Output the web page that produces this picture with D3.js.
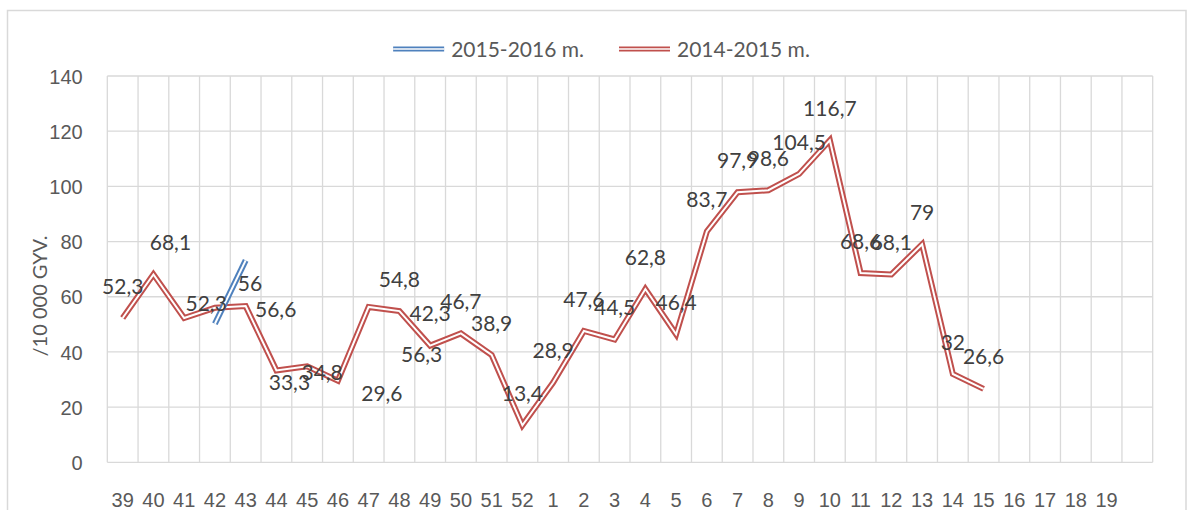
<!DOCTYPE html>
<html>
<head>
<meta charset="utf-8">
<script src="https://cdn.jsdelivr.net/npm/d3@7"></script>
<style>
  body { margin: 0; background: #fff; }
  svg { display: block; font-family: Lato, "Open Sans", sans-serif; }
</style>
</head>
<body>
<script>
// week numbers on the x axis (the last slot has no label)
const weeks = ["39","40","41","42","43","44","45","46","47","48","49","50","51","52",
  "1","2","3","4","5","6","7","8","9","10","11","12","13","14","15","16","17","18","19",""];

// 2014-2015 m. season, one value per week from 39 to 15
const weeks1415 = ["39","40","41","42","43","44","45","46","47","48","49","50","51","52",
  "1","2","3","4","5","6","7","8","9","10","11","12","13","14","15"];
const values1415 = [52.3, 68.1, 52.3, 56, 56.6, 33.3, 34.8, 29.6, 56.3, 54.8, 42.3, 46.7, 38.9, 13.4,
  28.9, 47.6, 44.5, 62.8, 46.4, 83.7, 97.9, 98.6, 104.5, 116.7, 68.6, 68.1, 79, 32, 26.6];

// 2015-2016 m. season, only the first weeks
const weeks1516 = ["42","43"];
const values1516 = [50.2, 73.2];

const yTicks = [0, 20, 40, 60, 80, 100, 120, 140];
const seriesNames = ["2015-2016 m.", "2014-2015 m."];
const seriesColors = ["#4f81bd", "#c0504d"];

// labels that were moved by hand in the original (offset from the point)
const labelMove = {"40":[17,-32], "41":[22,-15], "42":[35,-24], "43":[30,3],
  "44":[13,12], "45":[15,6], "46":[44,13], "47":[53,47]};

const W = 1187, H = 510;
const plotL = 107.3, plotR = 1152.7, plotT = 76, plotB = 462.3;

const svg = d3.select("body").append("svg")
  .attr("width", W).attr("height", H);

// chart frame
svg.append("rect")
  .attr("x", 7.5).attr("y", 10.5)
  .attr("width", 1178.5).attr("height", 530)
  .attr("fill", "none").attr("stroke", "#d9d9d9").attr("stroke-width", 1.5);

const x = d3.scaleBand().domain(weeks).range([plotL, plotR]).padding(0);
const y = d3.scaleLinear().domain([0, 140]).range([plotB, plotT]);
const cx = c => x(c) + x.bandwidth() / 2;

// grid
const grid = svg.append("g").attr("stroke", "#d9d9d9").attr("stroke-width", 1.3);
grid.selectAll(".hg").data(yTicks).enter().append("line")
  .attr("x1", plotL).attr("x2", plotR)
  .attr("y1", d => y(d)).attr("y2", d => y(d));
grid.selectAll(".vg").data(weeks.concat(["end"])).enter().append("line")
  .attr("x1", (d, i) => i < weeks.length ? x(d) : plotR)
  .attr("x2", (d, i) => i < weeks.length ? x(d) : plotR)
  .attr("y1", plotT).attr("y2", plotB);

// axes
const yAxis = svg.append("g")
  .attr("transform", "translate(" + plotL + ",0)")
  .call(d3.axisLeft(y).tickValues(yTicks).tickSize(0).tickPadding(24.6));
yAxis.select(".domain").remove();
yAxis.selectAll("text").attr("fill", "#595959").style("font-size", "20px")
  .attr("dy", "0.36em");

const xAxis = svg.append("g")
  .attr("transform", "translate(0," + plotB + ")")
  .call(d3.axisBottom(x).tickSize(0).tickPadding(31));
xAxis.select(".domain").remove();
xAxis.selectAll("text").attr("fill", "#595959").style("font-size", "20px");

svg.append("text")
  .attr("transform", "translate(47,296) rotate(-90)")
  .attr("text-anchor", "middle")
  .attr("fill", "#595959")
  .style("font-size", "20px")
  .text("/10 000 GYV.");

// double (compound) lines
const line = d3.line().x(d => cx(d[0])).y(d => y(d[1]));
function doubleLine(g, pts, color) {
  g.append("path").attr("d", line(pts)).attr("fill", "none")
    .attr("stroke", color).attr("stroke-width", 6)
    .attr("stroke-linejoin", "miter").attr("stroke-miterlimit", 10);
  g.append("path").attr("d", line(pts)).attr("fill", "none")
    .attr("stroke", "#fff").attr("stroke-width", 2)
    .attr("stroke-linejoin", "miter").attr("stroke-miterlimit", 10);
}
const lines = svg.append("g");
doubleLine(lines, d3.zip(weeks1415, values1415), seriesColors[1]);
doubleLine(lines, d3.zip(weeks1516, values1516), seriesColors[0]);

// data labels
svg.append("g").selectAll("text")
  .data(d3.zip(weeks1415, values1415))
  .enter().append("text")
  .attr("x", d => cx(d[0]) + (labelMove[d[0]] ? labelMove[d[0]][0] : 0))
  .attr("y", d => y(d[1]) + (labelMove[d[0]] ? labelMove[d[0]][1] : -32))
  .attr("dy", "0.36em")
  .attr("text-anchor", "middle")
  .attr("fill", "#404040")
  .style("font-size", "21px")
  .text(d => String(d[1]).replace(".", ","));

// legend
const legend = svg.append("g");
let lx = 0;
seriesNames.forEach((name, i) => {
  const item = legend.append("g").attr("transform", "translate(" + lx + ",0)");
  item.append("line").attr("x1", 0).attr("x2", 51).attr("y1", 0).attr("y2", 0)
    .attr("stroke", seriesColors[i]).attr("stroke-width", 5);
  item.append("line").attr("x1", 0).attr("x2", 51).attr("y1", 0).attr("y2", 0)
    .attr("stroke", "#fff").attr("stroke-width", 1.5);
  const t = item.append("text").attr("x", 58).attr("dy", "0.36em")
    .attr("fill", "#595959").style("font-size", "21px").text(name);
  lx += 58 + t.node().getComputedTextLength() + 35;
});
const legendWidth = lx - 35;
legend.attr("transform", "translate(" + (601.5 - legendWidth / 2) + ",49)");
</script>
</body>
</html>
